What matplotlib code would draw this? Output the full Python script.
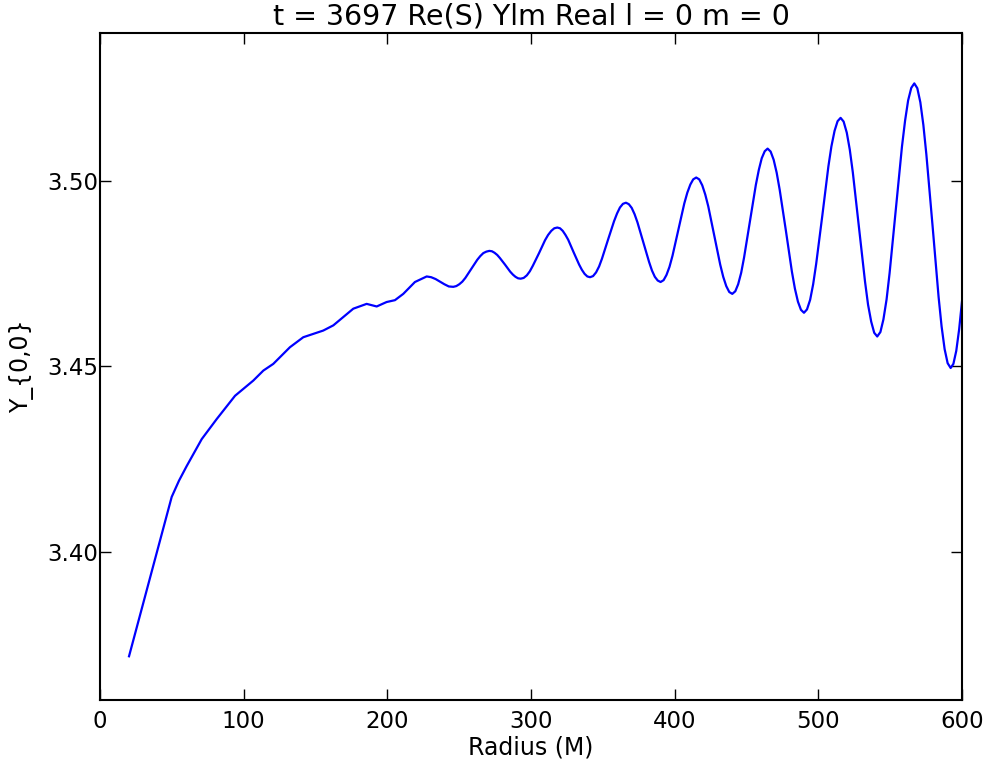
import matplotlib
matplotlib.use("Agg")
import matplotlib.pyplot as plt

radius = [
    20.2, 49.9, 55.0, 60.3, 70.8, 81.2, 94.0, 106.7, 113.7, 120.6, 132.2, 141.5,
    155.4, 162.4, 176.3, 185.6, 192.6, 199.5, 205.3, 211.1, 219.2,
    227.4, 230.5, 233.6, 236.7, 239.7, 242.8,
    245.9, 248.0, 250.1, 252.2, 254.3, 258.5, 262.6, 264.7, 266.8, 268.9,
    271.0, 272.8, 274.6, 276.5, 278.3, 281.9, 285.5, 287.4, 289.2, 291.0,
    292.8, 294.9, 297.1, 299.2, 301.3, 305.6, 309.8, 311.9, 314.1, 316.2,
    318.3, 320.2, 322.1, 324.0, 325.9, 329.7, 333.5, 335.4, 337.3, 339.2,
    341.1, 343.2, 345.3, 347.4, 349.4, 353.6, 357.8, 359.9, 361.9, 364.0,
    366.1, 368.1, 370.1, 372.1, 374.1, 378.2, 382.2, 384.2, 386.2, 388.2,
    390.2, 392.3, 394.3, 396.4, 398.5, 402.6, 406.7, 408.8, 410.9, 412.9,
    415.0, 417.1, 419.2, 421.3, 423.4, 427.6, 431.7, 433.8, 435.9, 438.0,
    440.1, 442.2, 444.2, 446.3, 448.3, 452.4, 456.5, 458.6, 460.6, 462.7,
    464.7, 466.8, 468.9, 471.0, 473.1, 477.4, 481.6, 483.7, 485.8, 487.9,
    490.0, 492.1, 494.3, 496.4, 498.5, 502.8, 507.0, 509.1, 511.3, 513.4,
    515.5, 517.6, 519.8, 521.9, 524.0, 528.3, 532.5, 534.6, 536.8, 538.9,
    541.0, 543.2, 545.3, 547.5, 549.6, 553.9, 558.2, 560.4, 562.5, 564.7,
    566.8, 568.9, 571.0, 573.1, 575.2, 579.5, 583.7, 585.8, 587.9, 590.0,
    592.1, 594.0, 596.0, 598.0, 600.0,
]
ylm = [
    3.3718, 3.4148, 3.4192, 3.4231, 3.4304, 3.4358, 3.4421, 3.4462, 3.4489, 3.4507, 3.4552, 3.4579,
    3.4597, 3.4611, 3.4656, 3.4669, 3.4662, 3.4674, 3.4679, 3.4696, 3.4728,
    3.4743, 3.4741, 3.4736, 3.4729, 3.4722, 3.4716,
    3.4715, 3.4717, 3.4722, 3.4729, 3.4739, 3.4764, 3.4788, 3.4798, 3.4806, 3.4810,
    3.4812, 3.4811, 3.4807, 3.4801, 3.4793, 3.4775, 3.4756, 3.4748, 3.4742, 3.4738,
    3.4737, 3.4739, 3.4746, 3.4757, 3.4772, 3.4806, 3.4841, 3.4855, 3.4866, 3.4873,
    3.4875, 3.4873, 3.4866, 3.4855, 3.4842, 3.4808, 3.4775, 3.4761, 3.4750, 3.4743,
    3.4741, 3.4744, 3.4754, 3.4770, 3.4791, 3.4842, 3.4892, 3.4913, 3.4929, 3.4939,
    3.4942, 3.4938, 3.4928, 3.4911, 3.4889, 3.4835, 3.4782, 3.4759, 3.4742, 3.4732,
    3.4728, 3.4733, 3.4747, 3.4769, 3.4799, 3.4869, 3.4940, 3.4969, 3.4991, 3.5005,
    3.5010, 3.5005, 3.4989, 3.4964, 3.4932, 3.4853, 3.4775, 3.4742, 3.4717, 3.4701,
    3.4696, 3.4703, 3.4722, 3.4753, 3.4794, 3.4892, 3.4990, 3.5031, 3.5062, 3.5081,
    3.5088, 3.5080, 3.5058, 3.5023, 3.4977, 3.4867, 3.4756, 3.4710, 3.4675, 3.4653,
    3.4645, 3.4654, 3.4680, 3.4722, 3.4777, 3.4908, 3.5040, 3.5094, 3.5136, 3.5162,
    3.5171, 3.5161, 3.5131, 3.5085, 3.5024, 3.4876, 3.4729, 3.4667, 3.4621, 3.4591,
    3.4581, 3.4593, 3.4627, 3.4681, 3.4752, 3.4923, 3.5093, 3.5164, 3.5218, 3.5252,
    3.5264, 3.5251, 3.5213, 3.5152, 3.5072, 3.4880, 3.4688, 3.4608, 3.4547, 3.4509,
    3.4496, 3.4507, 3.4542, 3.4600, 3.4676,
]
xticks = [0, 100, 200, 300, 400, 500, 600]
yticks = [3.40, 3.45, 3.50]
ytick_labels = ["3.40", "3.45", "3.50"]

plt.rcParams['font.family'] = ['DejaVu Sans']
fig = plt.figure(figsize=(9.88, 7.63), dpi=100)
ax = fig.add_axes([100/988, 63/763, 862/988, 667/763])
ax.plot(radius, ylm, color='#0000ff', linewidth=1.6, solid_joinstyle='round')
ax.set_xlim(0, 600)
ax.set_ylim(3.36, 3.54)
ax.set_xticks(xticks)
ax.set_xticklabels([str(t) for t in xticks])
ax.set_yticks(yticks)
ax.set_yticklabels(ytick_labels)
ax.tick_params(direction='in', length=8, width=1, labelsize=16.5, top=True, right=True)
ax.tick_params(axis='x', pad=7)
ax.tick_params(axis='y', pad=1)
for s in ax.spines.values():
    s.set_linewidth(1.5)
ax.set_title("t = 3697 Re(S) Ylm Real l = 0 m = 0", fontsize=20.5, pad=6)
ax.set_xlabel("Radius (M)", fontsize=17, labelpad=2)
ax.set_ylabel("Y_{0,0}", fontsize=17, labelpad=10)
fig.savefig("out.png", dpi=100)
